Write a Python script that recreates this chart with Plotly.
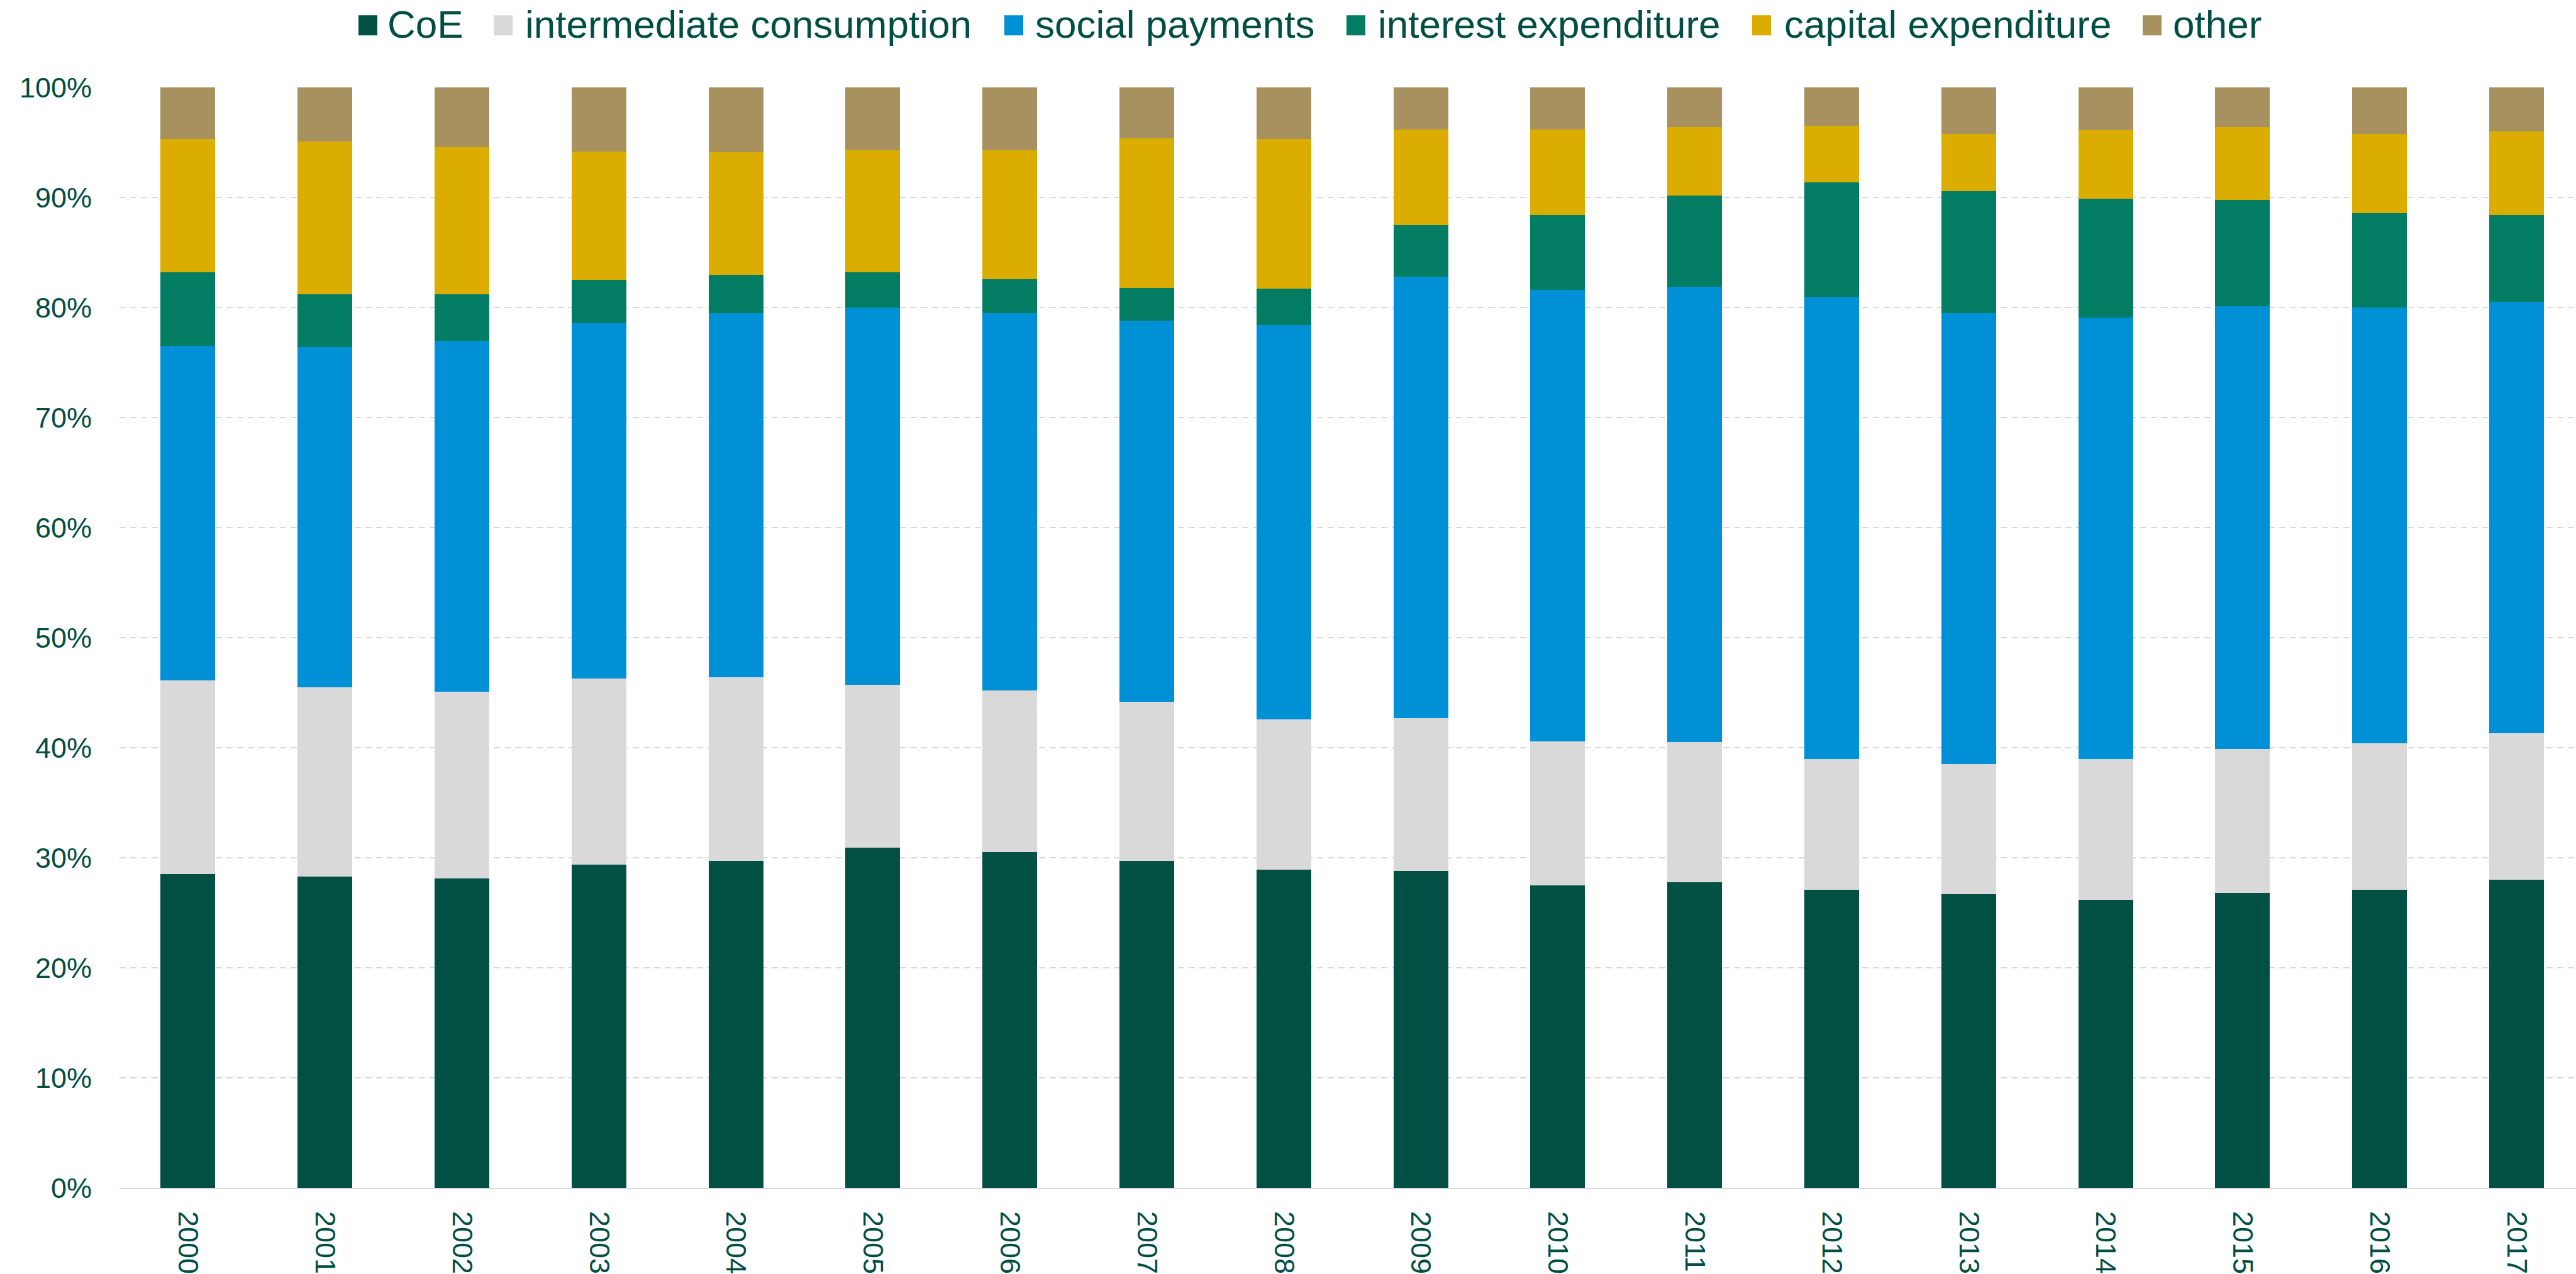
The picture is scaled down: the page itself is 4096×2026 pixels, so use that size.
import plotly.graph_objects as go

# Composition of expenditure, shares in percent of total
years = [str(y) for y in range(2000, 2018)]

coe = [28.5, 28.3, 28.1, 29.4, 29.7, 30.9, 30.5, 29.7, 28.9, 28.8, 27.5, 27.8, 27.1, 26.7, 26.2, 26.8, 27.1, 28.0]
intermediate = [17.6, 17.2, 17.0, 16.9, 16.7, 14.8, 14.7, 14.5, 13.7, 13.9, 13.1, 12.7, 11.9, 11.8, 12.8, 13.1, 13.3, 13.3]
social = [30.4, 30.9, 31.9, 32.3, 33.1, 34.3, 34.3, 34.6, 35.8, 40.1, 41.0, 41.4, 42.0, 41.0, 40.1, 40.2, 39.6, 39.2]
interest = [6.7, 4.8, 4.2, 3.9, 3.5, 3.2, 3.1, 3.0, 3.3, 4.7, 6.8, 8.3, 10.4, 11.1, 10.8, 9.7, 8.6, 7.9]
capital = [12.1, 13.9, 13.4, 11.7, 11.1, 11.1, 11.7, 13.6, 13.6, 8.7, 7.8, 6.2, 5.1, 5.2, 6.2, 6.6, 7.2, 7.6]
other = [4.7, 4.9, 5.4, 5.8, 5.9, 5.7, 5.7, 4.6, 4.7, 3.8, 3.8, 3.6, 3.5, 4.2, 3.9, 3.6, 4.2, 4.0]

series_names = ["CoE", "intermediate consumption", "social payments",
                "interest expenditure", "capital expenditure", "other"]
series_values = [coe, intermediate, social, interest, capital, other]
series_colors = ["#024F43", "#D9D9D9", "#0090D6", "#027C63", "#DAAD00", "#A6915F"]

y_ticks = list(range(0, 101, 10))
y_tick_labels = [f"{v}%" for v in y_ticks]

TEXT = "#024E44"
FONT = "Arial, Liberation Sans, sans-serif"
W, H = 4096, 2026
ML, MR, MT, MB = 190, 0, 139, 133

fig = go.Figure()
for name, vals, col in zip(series_names, series_values, series_colors):
    fig.add_trace(go.Bar(
        x=years, y=vals, name=name,
        marker=dict(color=col, line=dict(width=0)),
        showlegend=False,
    ))


def px_x(px):
    return (px - ML) / (W - ML - MR)


def px_y(py):
    return (H - MB - py) / (H - MB - MT)


# Legend row drawn as swatches + labels
legend_swatch_left = [570, 785, 1597, 2141, 2786, 3407]
legend_text_left = [615, 834, 1645, 2190, 2836, 3454]
sw_w, sw_top, sw_bot, text_mid = 30, 24, 56, 38

shapes = []
annotations = []
for name, col, sx, tx in zip(series_names, series_colors, legend_swatch_left, legend_text_left):
    shapes.append(dict(
        type="rect", xref="paper", yref="paper",
        x0=px_x(sx), x1=px_x(sx + sw_w), y0=px_y(sw_bot), y1=px_y(sw_top),
        fillcolor=col, line=dict(width=0), layer="above",
    ))
    annotations.append(dict(
        text=name, xref="paper", yref="paper",
        x=px_x(tx), y=px_y(text_mid), xanchor="left", yanchor="middle",
        showarrow=False, font=dict(family=FONT, size=62, color=TEXT),
        borderpad=0,
    ))

fig.update_layout(
    width=W, height=H,
    margin=dict(l=ML, r=MR, t=MT, b=MB, pad=0),
    barmode="stack",
    bargap=0.6,
    plot_bgcolor="white", paper_bgcolor="white",
    font=dict(family=FONT, color=TEXT, size=45),
    shapes=shapes,
    annotations=annotations,
    xaxis=dict(
        type="category",
        range=[-0.5, 17.434],
        tickangle=90,
        tickfont=dict(family=FONT, size=45, color=TEXT),
        ticks="outside", ticklen=26, tickcolor="rgba(0,0,0,0)",
        showgrid=False,
        showline=True, linecolor="#D9D9D9", linewidth=2,
        zeroline=False,
    ),
    yaxis=dict(
        range=[0, 100],
        tickvals=y_ticks, ticktext=y_tick_labels,
        tickfont=dict(family=FONT, size=45, color=TEXT),
        ticks="outside", ticklen=34, tickcolor="rgba(0,0,0,0)",
        showgrid=True, gridcolor="#D9D9D9", gridwidth=2, griddash="10px,7px",
        zeroline=False, showline=False,
    ),
)

fig.write_html("out.html")
